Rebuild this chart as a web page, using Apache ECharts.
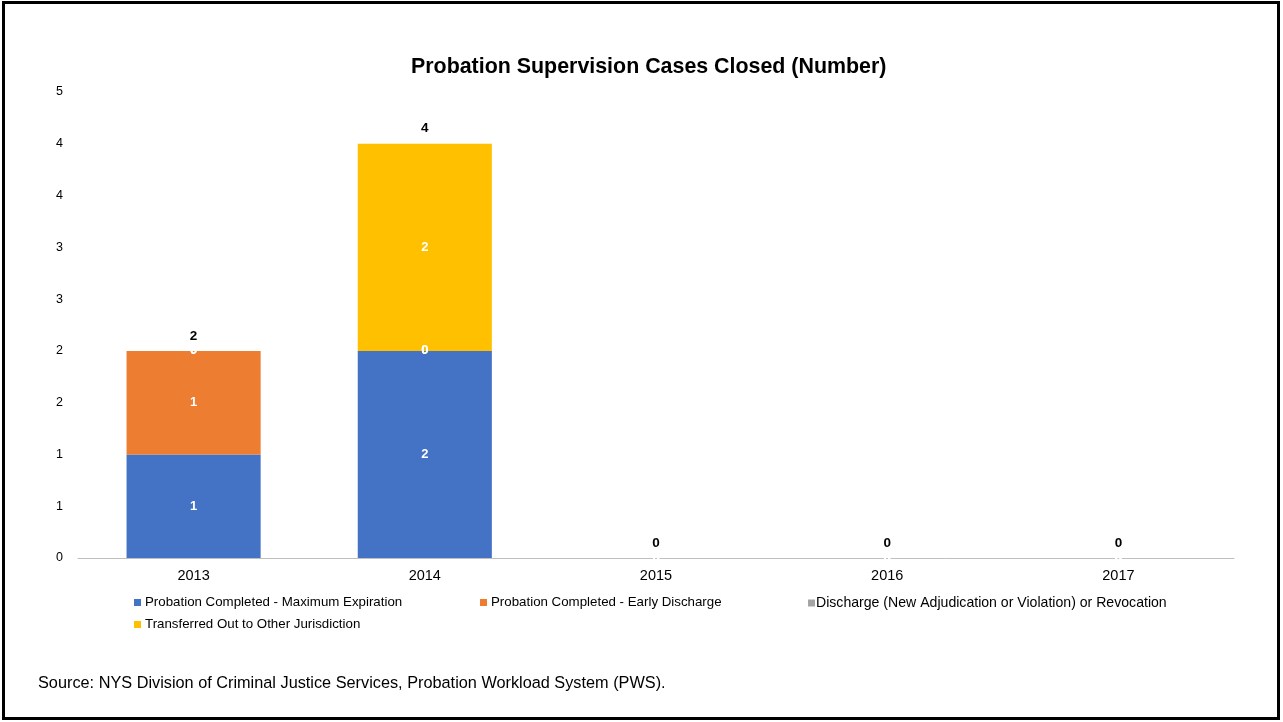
<!DOCTYPE html>
<html>
<head>
<meta charset="utf-8">
<script src="https://cdn.jsdelivr.net/npm/echarts@6/dist/echarts.min.js"></script>
<style>
html,body{margin:0;padding:0;background:#fff;}
#chart{position:absolute;left:0;top:0;width:1283px;height:722px;}
#frame{position:absolute;left:2px;top:1px;width:1278px;height:719px;border:3px solid #000;box-sizing:border-box;pointer-events:none;}
</style>
</head>
<body>
<div id="chart"></div>
<div id="frame"></div>
<script>
const categories = ['2013', '2014', '2015', '2016', '2017'];
const maxExpiration = [1, 2, 0, 0, 0];
const earlyDischarge = [1, 0, 0, 0, 0];
const discharge = [0, 0, 0, 0, 0];
const transferred = [0, 2, 0, 0, 0];
const seriesNames = [
  'Probation Completed - Maximum Expiration',
  'Probation Completed - Early Discharge',
  'Discharge (New Adjudication or Violation) or Revocation',
  'Transferred Out to Other Jurisdiction'
];
const colors = ['#4472C4', '#ED7D31', '#A5A5A5', '#FFC000'];
const seriesValues = [maxExpiration, earlyDischarge, discharge, transferred];
const totals = categories.map((c, i) => seriesValues.reduce((s, arr) => s + arr[i], 0));

const FONT = 'Liberation Sans, Arial, sans-serif';
const chart = echarts.init(document.getElementById('chart'));

const series = seriesValues.map((vals, k) => ({
  name: seriesNames[k],
  type: 'bar',
  stack: 'total',
  data: vals,
  barCategoryGap: '42%',
  itemStyle: { color: colors[k] },
  label: {
    show: true,
    position: 'inside',
    color: '#fff',
    fontWeight: 'bold',
    fontSize: 13,
    fontFamily: FONT
  }
}));
series.push({
  name: 'Total',
  type: 'bar',
  stack: 'total',
  data: categories.map(() => 0),
  itemStyle: { color: 'transparent' },
  label: {
    show: true,
    position: 'top',
    distance: 8,
    color: '#000',
    fontWeight: 'bold',
    fontSize: 13.5,
    fontFamily: FONT,
    formatter: p => String(totals[p.dataIndex])
  }
});

const legendPos = [
  { left: 129, top: 591, size: 13.3, pad: -1 },
  { left: 475, top: 591, size: 13.3, pad: -1 },
  { left: 803, top: 591, size: 14.1, pad: -4 },
  { left: 129, top: 613, size: 13.3, pad: -1 }
];
const legends = seriesNames.map((n, k) => ({
  data: [n],
  left: legendPos[k].left,
  top: legendPos[k].top,
  itemWidth: 7,
  itemHeight: 7,
  icon: 'rect',
  itemGap: 0,
  textStyle: { fontSize: legendPos[k].size, color: '#000', fontFamily: FONT, padding: [0, 0, 0, legendPos[k].pad] }
}));

chart.setOption({
  animation: false,
  title: {
    text: 'Probation Supervision Cases Closed (Number)',
    left: 406,
    top: 52,
    textStyle: { fontSize: 21.4, fontWeight: 'bold', color: '#000', fontFamily: FONT }
  },
  legend: legends,
  grid: { left: 78, right: 49, top: 92, bottom: 164 },
  xAxis: {
    type: 'category',
    data: categories,
    axisLine: { lineStyle: { color: '#BFBFBF', width: 1 } },
    axisTick: { show: false },
    axisLabel: { color: '#000', fontSize: 14.5, fontFamily: FONT, margin: 10 }
  },
  yAxis: {
    type: 'value',
    min: 0,
    max: 4.5,
    interval: 0.5,
    splitLine: { show: false },
    axisLine: { show: false },
    axisTick: { show: false },
    axisLabel: { color: '#000', fontSize: 12.5, fontFamily: FONT, margin: 15, formatter: v => String(Math.round(v)) }
  },
  graphic: [{
    type: 'text',
    left: 38,
    top: 676,
    style: { text: 'Source: NYS Division of Criminal Justice Services, Probation Workload System (PWS).', fill: '#000', font: '16.3px ' + FONT }
  }],
  series: series
});
</script>
</body>
</html>
